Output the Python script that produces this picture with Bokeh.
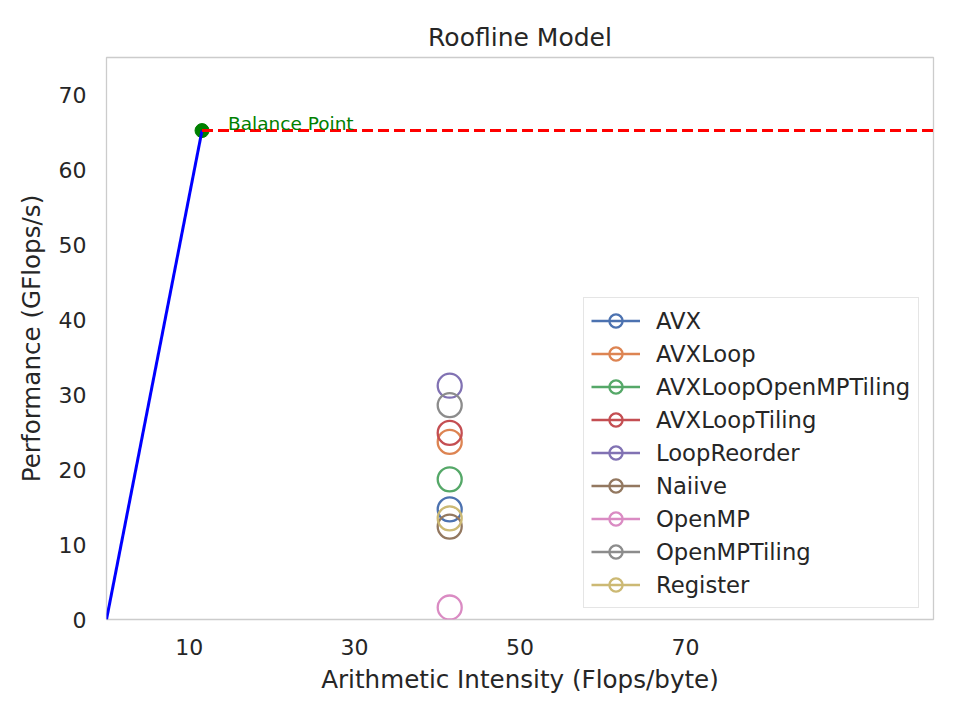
from bokeh.plotting import figure
from bokeh.models import Range1d, FixedTicker, Legend, LegendItem
from bokeh.embed import file_html
from bokeh.resources import INLINE
from bokeh.core.properties import value

# ---- data ----
versions = ["AVX", "AVXLoop", "AVXLoopOpenMPTiling", "AVXLoopTiling", "LoopReorder",
            "Naiive", "OpenMP", "OpenMPTiling", "Register"]
intensity = [41.5, 41.5, 41.5, 41.5, 41.5, 41.5, 41.5, 41.5, 41.5]
performance = [14.7, 23.7, 18.7, 24.9, 31.2, 12.4, 1.6, 28.6, 13.5]
colors = ["#4C72B0", "#DD8452", "#55A868", "#C44E52", "#8172B3",
          "#937860", "#DA8BC3", "#8C8C8C", "#CCB974"]
balance_x = 11.55
balance_y = 65.25
x_max = 100
y_max = 75
x_ticks = [10, 30, 50, 70]
y_ticks = [0, 10, 20, 30, 40, 50, 60, 70]

FONT = "DejaVu Sans"
TXT = "#262626"

p = figure(width=961, height=721, output_backend="svg", toolbar_location=None,
           x_range=Range1d(0, x_max), y_range=Range1d(0, y_max),
           min_border_left=106, min_border_right=28, min_border_top=57, min_border_bottom=102,
           title="Roofline Model")
p.title.align = "center"
p.title.text_font = FONT
p.title.text_font_size = "25px"
p.title.text_font_style = "normal"
p.title.text_color = TXT
p.title.standoff = 12

p.outline_line_color = "#cccccc"
p.outline_line_width = 1.3
p.xgrid.visible = False
p.ygrid.visible = False
p.background_fill_color = "white"
p.border_fill_color = "white"

for ax in (p.xaxis[0], p.yaxis[0]):
    ax.axis_line_color = None
    ax.major_tick_line_color = None
    ax.minor_tick_line_color = None
    ax.major_tick_out = 0
    ax.major_tick_in = 0
    ax.minor_tick_out = 0
    ax.major_label_text_font = FONT
    ax.major_label_text_font_size = "22px"
    ax.major_label_text_color = TXT
    ax.axis_label_text_font = FONT
    ax.axis_label_text_font_size = "24.6px"
    ax.axis_label_text_font_style = "normal"
    ax.axis_label_text_color = TXT

p.xaxis.ticker = FixedTicker(ticks=x_ticks)
p.yaxis.ticker = FixedTicker(ticks=y_ticks)
p.xaxis.axis_label = "Arithmetic Intensity (Flops/byte)"
p.yaxis.axis_label = "Performance (GFlops/s)"
p.xaxis.major_label_standoff = 19
p.xaxis.axis_label_standoff = 7
p.yaxis.major_label_standoff = 20
p.yaxis.axis_label_standoff = 10

# balance point and roofline
p.scatter([balance_x], [balance_y], size=14, color="green")
p.line([0, balance_x], [0, balance_y], line_color="blue", line_width=3)
p.line([balance_x, x_max], [balance_y, balance_y], line_color="red", line_width=3,
       line_dash="11 5")
p.text([balance_x], [balance_y], text=["Balance Point"], x_offset=26, y_offset=3,
       text_font=value(FONT), text_font_size="18.5px", text_color="green",
       text_baseline="bottom", text_align="left")

items = []
for name, xi, yi, c in zip(versions, intensity, performance, colors):
    ln = p.line([xi], [yi], line_color=c, line_width=2.3)
    sc = p.scatter([xi], [yi], size=24, fill_color=None, line_color=c, line_width=2.3)
    items.append(LegendItem(label=name, renderers=[ln, sc]))

legend = Legend(items=items, location=(477, 11), glyph_width=49, glyph_height=33,
                label_height=33, spacing=0, padding=(7, 8, 6, 6), margin=0, label_standoff=16,
                label_text_font=FONT, label_text_font_size="22.7px", label_text_color=TXT,
                border_line_color="#cccccc", border_line_width=1.3,
                background_fill_alpha=1.0)
p.add_layout(legend, "center")

open("out.html", "w").write(file_html(p, INLINE))
